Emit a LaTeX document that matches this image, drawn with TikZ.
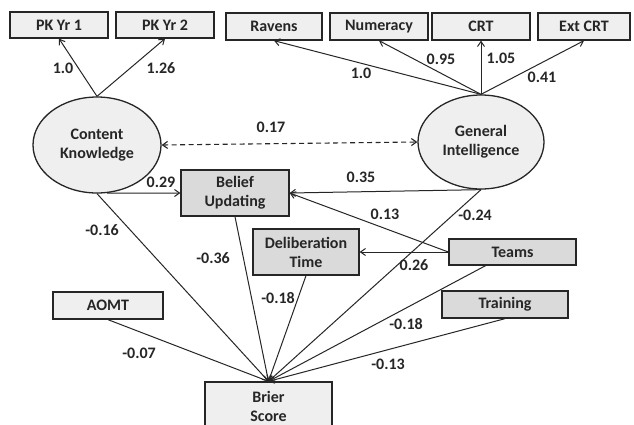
\documentclass[tikz,border=0pt]{standalone}
\usepackage{fontspec}
\setmainfont{Carlito}
\usetikzlibrary{arrows.meta,calc,shapes.geometric}
\definecolor{lightbox}{HTML}{EFEFEF}
\definecolor{darkbox}{HTML}{DADADA}
\definecolor{ink}{HTML}{262626}
\tikzset{
  every node/.style={font=\fontsize{16}{19}\selectfont\bfseries, text=ink},
  lbox/.style={draw=ink, line width=1.3pt, fill=lightbox, rectangle, align=center, inner sep=0pt},
  dbox/.style={draw=ink, line width=1.3pt, fill=darkbox, rectangle, align=center, inner sep=0pt},
  latent/.style={draw=ink, line width=1.3pt, fill=lightbox, ellipse, align=center, inner sep=0pt},
  path/.style={draw=ink, line width=1pt, -{Straight Barb[length=5pt,width=7pt]}},
  cov/.style={draw=ink, line width=1.1pt, dashed, dash pattern=on 5pt off 3.5pt, {Straight Barb[length=5pt,width=7pt]}-{Straight Barb[length=5pt,width=7pt]}},
  coef/.style={inner sep=0pt}
}
\begin{document}
\begin{tikzpicture}[x=1pt,y=-1pt]
\clip (0,0) rectangle (634,424);
\fill[white] (0,0) rectangle (634,424);
% indicators
\node[lbox, minimum width=98pt, minimum height=26pt] (pk1) at (59,25) {PK Yr 1};
\node[lbox, minimum width=98pt, minimum height=26pt] (pk2) at (165,25) {PK Yr 2};
\node[lbox, minimum width=96pt, minimum height=27pt] (rav) at (274,26.5) {Ravens};
\node[lbox, minimum width=98pt, minimum height=27pt] (num) at (379,26.5) {Numeracy};
\node[lbox, minimum width=98pt, minimum height=27pt] (crt) at (481,26.5) {CRT};
\node[lbox, minimum width=92pt, minimum height=27pt] (ext) at (584,26.5) {Ext CRT};
% latent
\node[latent, minimum width=128pt, minimum height=96pt] (ck) at (97,145) {Content\\Knowledge};
\node[latent, minimum width=126pt, minimum height=94pt] (gi) at (481,142) {General\\Intelligence};
% observed
\node[dbox, minimum width=108pt, minimum height=46pt] (bu) at (235,193) {Belief\\Updating};
\node[dbox, minimum width=106pt, minimum height=46pt] (dt) at (306,252) {Deliberation\\Time};
\node[dbox, minimum width=127pt, minimum height=26pt] (teams) at (512.5,252) {Teams};
\node[dbox, minimum width=126pt, minimum height=27pt] (train) at (505,304.5) {Training};
\node[lbox, minimum width=110pt, minimum height=27pt] (aomt) at (108,305.5) {AOMT};
\node[lbox, minimum width=127pt, minimum height=48pt] (brier) at (268.5,406) {Brier\\Score};
\coordinate (teamsbot) at ($(teams.south west)!0.29!(teams.south east)$);
% loadings
\draw[path] (ck.north) -- (pk1.south);
\draw[path] (ck.north) -- (pk2.south);
\draw[path] (gi.north) -- (rav.south);
\draw[path] (gi.north) -- (num.south);
\draw[path] (gi.north) -- (crt.south);
\draw[path] (gi.north) -- (ext.south);
% covariance
\draw[cov] (ck.east) -- (gi.west);
% structural
\draw[path] (ck.-78) -- (bu.west);
\draw[path] (gi.south) -- (bu.east);
\draw[path] (teams.west) -- (bu.east);
\draw[path] (teams.west) -- (dt.east);
\draw[path] (ck.south) -- (brier.north);
\draw[path] (bu.south) -- (brier.north);
\draw[path] (dt.south) -- (brier.north);
\draw[path] (gi.south) -- (brier.north);
\draw[path] (teamsbot) -- (brier.north);
\draw[path] (train.south) -- (brier.north);
\draw[path] (aomt.south) -- (brier.north);
% coefficients
\node[coef] (c1) at (63,68) {1.0};
\node[coef] (c2) at (161,68) {1.26};
\node[coef] (c3) at (361,73) {1.0};
\node[coef] (c4) at (441,59) {0.95};
\node[coef] (c5) at (501,58) {1.05};
\node[coef] (c6) at (542,77) {0.41};
\node[coef] (c7) at (271,127) {0.17};
\node[coef] (c8) at (161,182) {0.29};
\node[coef] (c9) at (361,177) {0.35};
\node[coef] (c10) at (385,214) {0.13};
\node[coef] (c11) at (475,215) {-0.24};
\node[coef] (c12) at (414,265) {0.26};
\node[coef] (c13) at (102,230) {-0.16};
\node[coef] (c14) at (213,258) {-0.36};
\node[coef] (c15) at (278,298) {-0.18};
\node[coef] (c16) at (139,353) {-0.07};
\node[coef] (c17) at (406,324) {-0.18};
\node[coef] (c18) at (388,364) {-0.13};
\end{tikzpicture}
\end{document}
